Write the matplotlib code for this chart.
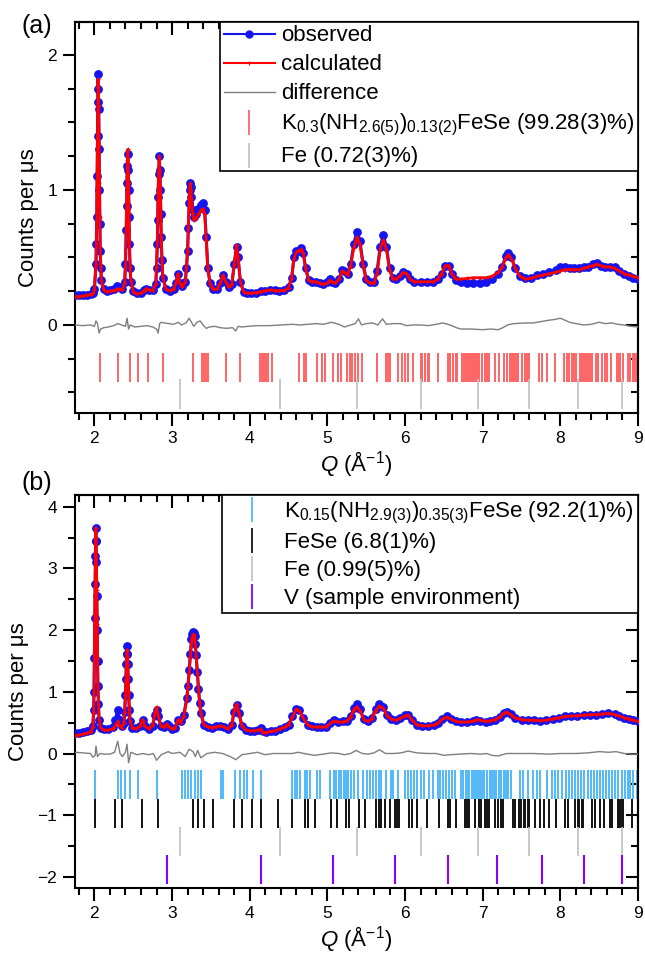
import matplotlib
matplotlib.use('Agg')
import matplotlib.pyplot as plt
from matplotlib.ticker import MultipleLocator, NullFormatter
from matplotlib.lines import Line2D

plt.rcParams['font.family'] = ['Liberation Sans', 'DejaVu Sans']
plt.rcParams['mathtext.fontset'] = 'custom'
plt.rcParams['mathtext.rm'] = 'Liberation Sans'
plt.rcParams['mathtext.it'] = 'Liberation Sans:italic'
plt.rcParams['axes.unicode_minus'] = True

# ---------------- Panel (a) data ----------------
q_a = [1.75, 1.80, 1.85, 1.90, 1.95, 1.98, 2.00, 2.02, 2.025, 2.03, 2.035, 2.04, 2.044,
       2.047, 2.051, 2.055, 2.06, 2.065, 2.07, 2.075, 2.082, 2.09, 2.12, 2.16, 2.20, 2.25, 2.29,
       2.32, 2.36, 2.39, 2.40, 2.41, 2.415, 2.42, 2.425, 2.43, 2.435, 2.44, 2.445, 2.45, 2.46, 2.47, 2.50,
       2.55, 2.60, 2.64, 2.67, 2.70, 2.75, 2.79, 2.80, 2.81, 2.815, 2.82, 2.827, 2.835, 2.843,
       2.85, 2.855, 2.86, 2.87, 2.88, 2.92, 2.97, 3.02, 3.05, 3.075, 3.10, 3.13,
       3.17, 3.185, 3.20, 3.21, 3.22, 3.228, 3.235, 3.243, 3.25, 3.265, 3.28, 3.31, 3.34, 3.37, 3.40,
       3.42, 3.44, 3.46, 3.49, 3.53, 3.58, 3.62, 3.655, 3.69, 3.73,
       3.77, 3.80, 3.83, 3.85, 3.88, 3.92, 3.97, 4.02, 4.08, 4.14,
       4.20, 4.26, 4.32, 4.38, 4.44, 4.50, 4.54, 4.57, 4.60, 4.63,
       4.665, 4.69, 4.72, 4.76, 4.80, 4.85, 4.90, 4.95, 5.00, 5.03,
       5.06, 5.10, 5.15, 5.19, 5.22, 5.26, 5.30, 5.34, 5.38, 5.42,
       5.46, 5.50, 5.55, 5.60, 5.64, 5.68, 5.72, 5.76, 5.80, 5.84,
       5.88, 5.93, 5.98, 6.02, 6.06, 6.12, 6.20, 6.28, 6.36, 6.42,
       6.47, 6.52, 6.56, 6.60, 6.65, 6.72, 6.80, 6.88, 6.96, 7.04,
       7.12, 7.20, 7.25, 7.30, 7.33, 7.37, 7.42, 7.48, 7.55, 7.62,
       7.70, 7.78, 7.86, 7.94, 8.00, 8.06, 8.12, 8.18, 8.24, 8.30,
       8.36, 8.42, 8.47, 8.52, 8.58, 8.64, 8.70, 8.76, 8.82, 8.88,
       8.94, 9.00]
obs_a = [0.22, 0.22, 0.225, 0.225, 0.23, 0.24, 0.27, 0.45, 0.60, 0.80, 1.10, 1.40, 1.65,
         1.86, 1.75, 1.60, 1.30, 1.00, 0.75, 0.55, 0.42, 0.33, 0.27, 0.255, 0.26, 0.27, 0.285,
         0.28, 0.27, 0.32, 0.45, 0.70, 0.88, 1.05, 1.18, 1.27, 1.15, 1.00, 0.80, 0.60, 0.42, 0.32, 0.25,
         0.235, 0.24, 0.26, 0.27, 0.26, 0.26, 0.30, 0.42, 0.60, 0.78, 0.95, 1.12, 1.25, 1.15,
         1.00, 0.82, 0.65, 0.48, 0.35, 0.27, 0.255, 0.27, 0.31, 0.38, 0.31, 0.29,
         0.32, 0.42, 0.55, 0.72, 0.90, 1.00, 1.05, 1.02, 0.95, 0.85, 0.80, 0.82, 0.86, 0.89, 0.90,
         0.85, 0.65, 0.42, 0.31, 0.27, 0.27, 0.31, 0.37, 0.32, 0.28,
         0.30, 0.45, 0.58, 0.50, 0.32, 0.245, 0.235, 0.235, 0.24, 0.25,
         0.255, 0.26, 0.26, 0.255, 0.26, 0.28, 0.35, 0.50, 0.55, 0.55,
         0.57, 0.53, 0.42, 0.33, 0.32, 0.32, 0.31, 0.30, 0.32, 0.34,
         0.32, 0.31, 0.34, 0.41, 0.40, 0.38, 0.45, 0.60, 0.69, 0.62,
         0.45, 0.34, 0.32, 0.32, 0.40, 0.58, 0.665, 0.58, 0.42, 0.35,
         0.34, 0.36, 0.39, 0.38, 0.34, 0.32, 0.32, 0.32, 0.32, 0.34,
         0.38, 0.44, 0.44, 0.38, 0.33, 0.32, 0.31, 0.31, 0.31, 0.32,
         0.34, 0.38, 0.43, 0.51, 0.53, 0.50, 0.42, 0.36, 0.35, 0.35,
         0.37, 0.38, 0.39, 0.41, 0.43, 0.43, 0.42, 0.42, 0.42, 0.43,
         0.43, 0.45, 0.46, 0.44, 0.43, 0.43, 0.43, 0.40, 0.38, 0.36,
         0.35, 0.34]
calc_a = [0.21, 0.21, 0.215, 0.22, 0.225, 0.235, 0.26, 0.45, 0.60, 0.78, 1.08, 1.35, 1.62,
          1.82, 1.76, 1.62, 1.33, 1.05, 0.80, 0.58, 0.44, 0.33, 0.26, 0.245, 0.25, 0.255, 0.265,
          0.265, 0.26, 0.31, 0.44, 0.72, 0.90, 1.10, 1.22, 1.30, 1.20, 1.05, 0.83, 0.62, 0.43, 0.33, 0.245,
          0.23, 0.235, 0.255, 0.27, 0.26, 0.255, 0.30, 0.43, 0.62, 0.80, 0.98, 1.13, 1.25, 1.15,
          1.00, 0.83, 0.65, 0.49, 0.36, 0.265, 0.255, 0.265, 0.31, 0.38, 0.31, 0.28,
          0.32, 0.42, 0.55, 0.72, 0.90, 1.00, 1.05, 1.00, 0.93, 0.83, 0.78, 0.79, 0.82, 0.85, 0.86,
          0.82, 0.63, 0.42, 0.30, 0.265, 0.265, 0.31, 0.37, 0.32, 0.28,
          0.30, 0.45, 0.59, 0.50, 0.32, 0.245, 0.235, 0.235, 0.24, 0.245,
          0.255, 0.26, 0.255, 0.255, 0.255, 0.275, 0.35, 0.49, 0.54, 0.55,
          0.56, 0.53, 0.42, 0.33, 0.32, 0.32, 0.31, 0.30, 0.31, 0.33,
          0.32, 0.31, 0.34, 0.40, 0.39, 0.37, 0.44, 0.57, 0.65, 0.60,
          0.44, 0.33, 0.31, 0.31, 0.38, 0.56, 0.63, 0.56, 0.41, 0.34,
          0.34, 0.36, 0.39, 0.38, 0.34, 0.32, 0.32, 0.32, 0.32, 0.34,
          0.38, 0.44, 0.44, 0.38, 0.34, 0.34, 0.345, 0.35, 0.35, 0.35,
          0.36, 0.39, 0.43, 0.50, 0.52, 0.49, 0.42, 0.36, 0.34, 0.345,
          0.36, 0.37, 0.38, 0.39, 0.40, 0.41, 0.41, 0.41, 0.41, 0.42,
          0.43, 0.44, 0.45, 0.44, 0.43, 0.43, 0.42, 0.40, 0.38, 0.37,
          0.36, 0.35]
qd_a = [1.75, 1.85, 1.95, 2.00, 2.02, 2.04, 2.06, 2.08, 2.12, 2.18,
        2.25, 2.30, 2.35, 2.40, 2.42, 2.44, 2.46, 2.52, 2.60, 2.68,
        2.75, 2.80, 2.82, 2.84, 2.86, 2.90, 2.96, 3.02, 3.08, 3.12,
        3.18, 3.22, 3.25, 3.28, 3.32, 3.36, 3.40, 3.44, 3.48, 3.55,
        3.62, 3.70, 3.78, 3.82, 3.85, 3.90, 3.98, 4.10, 4.25, 4.40,
        4.55, 4.65, 4.75, 4.85, 4.95, 5.05, 5.15, 5.22, 5.30, 5.36,
        5.40, 5.44, 5.50, 5.58, 5.65, 5.71, 5.76, 5.85, 5.94, 6.02,
        6.10, 6.20, 6.30, 6.40, 6.49, 6.58, 6.66, 6.72, 6.85, 7.00,
        7.10, 7.20, 7.26, 7.32, 7.40, 7.55, 7.65, 7.75, 7.85, 7.92,
        8.00, 8.06, 8.12, 8.20, 8.30, 8.40, 8.50, 8.58, 8.66, 8.74,
        8.82, 8.90, 9.00]
diff_a = [0.0, -0.005, 0.0, -0.01, 0.03, 0.01, -0.06, -0.03, -0.02, -0.015,
          -0.005, 0.01, 0.0, -0.01, 0.05, -0.03, 0.0, -0.015, -0.01, -0.005,
          -0.015, -0.03, -0.06, 0.01, 0.02, 0.015, 0.01, 0.005, 0.02, 0.0,
          0.015, 0.05, 0.02, -0.01, 0.02, 0.03, 0.0, -0.025, -0.015, -0.01,
          -0.02, -0.025, -0.02, -0.045, -0.01, -0.015, -0.01, -0.005, -0.005, 0.0,
          0.005, 0.0, 0.005, 0.01, 0.005, 0.02, 0.005, -0.015, 0.0, 0.01,
          0.045, 0.0, 0.01, 0.015, 0.0, 0.045, 0.005, 0.01, 0.01, -0.005,
          0.0, 0.0, -0.005, 0.005, 0.015, 0.0, -0.02, -0.03, -0.03, -0.035,
          -0.03, -0.035, -0.02, 0.0, 0.01, 0.015, 0.015, 0.025, 0.035, 0.04,
          0.05, 0.035, 0.02, 0.01, 0.0, 0.005, 0.02, 0.01, 0.015, 0.005,
          0.0, -0.01, -0.015]
refl_K03 = [2.077, 2.31, 2.46, 2.565, 2.69, 2.88, 3.27, 3.38, 3.41, 3.44,
            3.465, 3.69, 3.875, 4.13, 4.16, 4.18, 4.21, 4.24, 4.29, 4.63,
            4.70, 4.73, 4.87, 4.93, 4.97, 5.07, 5.14, 5.18, 5.25, 5.29,
            5.32, 5.36, 5.40, 5.45, 5.64, 5.75, 5.78, 5.81, 5.91, 5.96,
            6.00, 6.04, 6.10, 6.20, 6.22, 6.255, 6.30, 6.315, 6.43, 6.555,
            6.585, 6.615, 6.65, 6.67, 6.735, 6.76, 6.78, 6.81, 6.83, 6.85,
            6.87, 6.89, 6.91, 6.93, 6.95, 6.99, 7.025, 7.055, 7.085, 7.155,
            7.215, 7.28, 7.31, 7.355, 7.38, 7.40, 7.42, 7.44, 7.46, 7.505,
            7.54, 7.57, 7.59, 7.72, 7.76, 7.83, 7.935, 8.05, 8.08, 8.11,
            8.15, 8.17, 8.20, 8.255, 8.28, 8.30, 8.33, 8.355, 8.38, 8.405,
            8.455, 8.49, 8.53, 8.57, 8.60, 8.65, 8.725, 8.75, 8.77, 8.81,
            8.875, 8.90, 8.93, 8.955, 8.98]
refl_Fe = [3.105, 4.39, 5.38, 6.21, 6.94, 7.60, 8.225, 8.79]
labels_a = ['observed', 'calculated', 'difference',
            r'K$_{\mathrm{0.3}}$(NH$_{\mathrm{2.6(5)}}$)$_{\mathrm{0.13(2)}}$FeSe (99.28(3)%)',
            'Fe (0.72(3)%)']

# ---------------- Panel (b) data ----------------
q_b = [1.75, 1.80, 1.85, 1.90, 1.95, 1.98, 1.99, 1.995, 2.00, 2.005, 2.009, 2.012, 2.015, 2.018,
       2.021, 2.025, 2.03, 2.035, 2.04, 2.045, 2.052, 2.06, 2.08, 2.12, 2.18, 2.24, 2.27, 2.30,
       2.325, 2.35, 2.38, 2.39, 2.40, 2.405, 2.41, 2.415, 2.42, 2.425, 2.43, 2.435, 2.44, 2.45, 2.46, 2.49,
       2.54, 2.59, 2.62, 2.65, 2.70, 2.75, 2.78, 2.80, 2.82, 2.86,
       2.90, 2.93, 2.96, 3.00, 3.04, 3.08, 3.11, 3.15, 3.19, 3.205, 3.22, 3.235,
       3.25, 3.26, 3.27, 3.28, 3.29, 3.30, 3.31, 3.325, 3.34, 3.355, 3.37, 3.41, 3.46, 3.52, 3.57,
       3.62, 3.67, 3.72, 3.77, 3.80, 3.83, 3.86, 3.90, 3.95, 4.00,
       4.06, 4.11, 4.14, 4.17, 4.21, 4.27, 4.33, 4.39, 4.45, 4.50,
       4.55, 4.60, 4.64, 4.69, 4.75, 4.80, 4.86, 4.92, 4.98, 5.04,
       5.09, 5.14, 5.20, 5.25, 5.30, 5.34, 5.38, 5.42, 5.47, 5.52,
       5.57, 5.62, 5.67, 5.72, 5.77, 5.82, 5.88, 5.94, 6.00, 6.04,
       6.09, 6.15, 6.22, 6.30, 6.37, 6.43, 6.48, 6.54, 6.59, 6.65,
       6.72, 6.80, 6.87, 6.92, 6.97, 7.04, 7.10, 7.16, 7.22, 7.27,
       7.31, 7.36, 7.42, 7.50, 7.58, 7.66, 7.74, 7.82, 7.90, 7.98,
       8.06, 8.14, 8.22, 8.30, 8.38, 8.46, 8.54, 8.62, 8.70, 8.76,
       8.82, 8.88, 8.94, 9.00]
obs_b = [0.33, 0.34, 0.35, 0.36, 0.38, 0.45, 0.70, 1.00, 1.55, 2.20, 2.75, 3.20, 3.45, 3.65,
         3.45, 3.10, 2.55, 2.00, 1.50, 1.10, 0.80, 0.55, 0.42, 0.39, 0.40, 0.43, 0.55, 0.71,
         0.55, 0.45, 0.50, 0.68, 0.95, 1.20, 1.45, 1.62, 1.74, 1.62, 1.45, 1.20, 0.95, 0.70, 0.52, 0.42,
         0.41, 0.45, 0.55, 0.44, 0.40, 0.45, 0.62, 0.70, 0.60, 0.44,
         0.43, 0.48, 0.44, 0.40, 0.42, 0.55, 0.52, 0.62, 0.90, 1.10, 1.35, 1.62,
         1.85, 1.93, 1.97, 1.96, 1.90, 1.78, 1.60, 1.32, 1.05, 0.82, 0.65, 0.47, 0.43, 0.42, 0.44,
         0.45, 0.43, 0.40, 0.47, 0.68, 0.78, 0.65, 0.45, 0.38, 0.37,
         0.37, 0.38, 0.41, 0.37, 0.35, 0.36, 0.37, 0.40, 0.43, 0.47,
         0.60, 0.72, 0.70, 0.58, 0.47, 0.44, 0.43, 0.43, 0.43, 0.50,
         0.54, 0.51, 0.52, 0.53, 0.60, 0.74, 0.80, 0.72, 0.56, 0.53,
         0.57, 0.72, 0.81, 0.75, 0.62, 0.56, 0.54, 0.57, 0.62, 0.62,
         0.54, 0.47, 0.45, 0.45, 0.46, 0.50, 0.56, 0.60, 0.56, 0.52,
         0.51, 0.51, 0.52, 0.55, 0.53, 0.51, 0.52, 0.55, 0.59, 0.66,
         0.68, 0.64, 0.58, 0.55, 0.54, 0.54, 0.53, 0.54, 0.56, 0.58,
         0.60, 0.61, 0.61, 0.62, 0.63, 0.63, 0.64, 0.65, 0.64, 0.61,
         0.58, 0.56, 0.54, 0.52]
calc_b = [0.29, 0.30, 0.31, 0.33, 0.35, 0.43, 0.68, 1.00, 1.55, 2.20, 2.75, 3.20, 3.45, 3.66,
          3.50, 3.20, 2.65, 2.10, 1.55, 1.10, 0.80, 0.55, 0.42, 0.38, 0.38, 0.40, 0.45, 0.52,
          0.45, 0.42, 0.50, 0.68, 0.95, 1.18, 1.40, 1.58, 1.68, 1.58, 1.45, 1.22, 1.00, 0.72, 0.52, 0.42,
          0.40, 0.45, 0.55, 0.44, 0.40, 0.46, 0.65, 0.75, 0.62, 0.44,
          0.43, 0.48, 0.43, 0.40, 0.42, 0.55, 0.50, 0.60, 0.88, 1.08, 1.30, 1.57,
          1.80, 1.88, 1.93, 1.92, 1.87, 1.75, 1.58, 1.31, 1.05, 0.82, 0.65, 0.47, 0.43, 0.42, 0.43,
          0.45, 0.43, 0.40, 0.47, 0.70, 0.80, 0.66, 0.45, 0.38, 0.37,
          0.37, 0.38, 0.40, 0.34, 0.34, 0.36, 0.37, 0.40, 0.43, 0.47,
          0.59, 0.72, 0.69, 0.57, 0.46, 0.43, 0.43, 0.43, 0.43, 0.49,
          0.53, 0.51, 0.51, 0.53, 0.59, 0.71, 0.76, 0.69, 0.55, 0.52,
          0.56, 0.69, 0.77, 0.73, 0.61, 0.56, 0.54, 0.57, 0.61, 0.62,
          0.54, 0.47, 0.45, 0.45, 0.46, 0.50, 0.56, 0.59, 0.56, 0.52,
          0.51, 0.51, 0.52, 0.55, 0.54, 0.52, 0.53, 0.55, 0.59, 0.65,
          0.67, 0.63, 0.58, 0.55, 0.54, 0.54, 0.53, 0.54, 0.56, 0.58,
          0.60, 0.61, 0.61, 0.62, 0.63, 0.63, 0.64, 0.65, 0.63, 0.61,
          0.58, 0.56, 0.54, 0.52]
qd_b = [1.75, 1.85, 1.95, 1.98, 2.01, 2.02, 2.04, 2.07, 2.12, 2.20,
        2.26, 2.30, 2.33, 2.36, 2.40, 2.42, 2.44, 2.47, 2.55, 2.62,
        2.70, 2.76, 2.80, 2.86, 2.95, 3.00, 3.10, 3.17, 3.22, 3.27,
        3.30, 3.33, 3.37, 3.45, 3.55, 3.65, 3.75, 3.82, 3.90, 4.00,
        4.10, 4.15, 4.20, 4.30, 4.45, 4.55, 4.62, 4.70, 4.83, 4.95,
        5.05, 5.15, 5.22, 5.30, 5.37, 5.45, 5.52, 5.60, 5.67, 5.75,
        5.85, 5.95, 6.04, 6.15, 6.30, 6.40, 6.50, 6.58, 6.70, 6.85,
        6.97, 7.05, 7.12, 7.20, 7.31, 7.45, 7.65, 7.85, 8.00, 8.20,
        8.35, 8.50, 8.62, 8.72, 8.82, 8.92, 9.00]
diff_b = [0.02, 0.01, 0.0, -0.06, -0.03, 0.12, -0.05, 0.0, -0.01, -0.01,
          0.02, 0.20, 0.0, -0.05, 0.02, 0.15, -0.15, 0.02, -0.02, 0.0,
          -0.02, 0.0, -0.11, -0.02, 0.03, 0.0, 0.02, -0.05, 0.07, 0.03,
          -0.05, 0.05, -0.07, 0.0, 0.02, 0.0, -0.05, -0.10, -0.02, 0.0,
          0.02, 0.0, -0.02, 0.0, 0.0, 0.0, 0.02, 0.0, -0.03, -0.01,
          0.01, 0.0, -0.02, 0.0, 0.05, 0.0, -0.01, 0.01, 0.06, 0.0,
          0.0, 0.01, 0.04, 0.01, 0.0, 0.0, -0.03, -0.02, -0.01, 0.0,
          -0.01, 0.0, -0.03, -0.04, 0.0, 0.0, 0.0, -0.01, 0.0, 0.0,
          0.01, 0.03, 0.02, 0.03, 0.0, -0.01, -0.01]
refl_K015 = [2.011, 2.30, 2.34, 2.39, 2.455, 2.56, 2.80, 3.13, 3.17, 3.21,
             3.25, 3.29, 3.33, 3.37, 3.63, 3.66, 3.81, 3.87, 3.92, 3.97,
             4.04, 4.15, 4.55, 4.585, 4.61, 4.65, 4.71, 4.74, 4.77, 4.865,
             4.90, 5.03, 5.09, 5.11, 5.15, 5.18, 5.22, 5.245, 5.27, 5.31,
             5.34, 5.39, 5.46, 5.51, 5.55, 5.59, 5.63, 5.67, 5.695, 5.76,
             5.82, 5.85, 5.905, 6.00, 6.04, 6.08, 6.12, 6.155, 6.20, 6.25,
             6.31, 6.355, 6.42, 6.45, 6.49, 6.525, 6.565, 6.61, 6.645, 6.715,
             6.75, 6.78, 6.805, 6.83, 6.86, 6.885, 6.91, 6.94, 6.965, 6.99,
             7.016, 7.05, 7.095, 7.12, 7.15, 7.175, 7.21, 7.24, 7.28, 7.305,
             7.33, 7.36, 7.475, 7.52, 7.58, 7.65, 7.70, 7.74, 7.825, 7.89,
             7.93, 7.97, 8.02, 8.07, 8.11, 8.15, 8.195, 8.23, 8.27, 8.31,
             8.35, 8.39, 8.43, 8.47, 8.51, 8.55, 8.59, 8.63, 8.67, 8.71,
             8.74, 8.79, 8.83, 8.865, 8.90, 8.94, 8.99]
refl_FeSe = [2.013, 2.27, 2.355, 2.617, 2.818, 3.267, 3.34, 3.405, 3.524, 3.794,
             3.90, 4.025, 4.145, 4.37, 4.543, 4.714, 4.753, 4.843, 5.048, 5.12,
             5.236, 5.279, 5.408, 5.485, 5.63, 5.665, 5.686, 5.74, 5.80, 5.87,
             5.90, 5.92, 6.05, 6.09, 6.15, 6.285, 6.435, 6.555, 6.585, 6.65,
             6.77, 6.79, 6.81, 6.83, 6.906, 6.957, 6.983, 7.026, 7.056, 7.086,
             7.163, 7.197, 7.236, 7.257, 7.385, 7.42, 7.463, 7.488, 7.53, 7.55,
             7.58, 7.59, 7.677, 7.74, 7.784, 7.848, 7.942, 8.062, 8.105, 8.19,
             8.225, 8.246, 8.276, 8.297, 8.413, 8.447, 8.511, 8.567, 8.64, 8.67,
             8.74, 8.76, 8.78, 8.81, 8.918]
refl_Fe_b = [3.105, 4.39, 5.38, 6.21, 6.94, 7.60, 8.225, 8.79]
refl_V = [2.93, 4.15, 5.07, 5.87, 6.55, 7.19, 7.76, 8.30, 8.80]
labels_b = [r'K$_{\mathrm{0.15}}$(NH$_{\mathrm{2.9(3)}}$)$_{\mathrm{0.35(3)}}$FeSe (92.2(1)%)',
            'FeSe (6.8(1)%)', 'Fe (0.99(5)%)', 'V (sample environment)']

# ---------------- styles ----------------
C_OBS = '#1414f0'
C_CALC = '#ff0000'
C_DIFF = '#7f7f7f'
C_RED = '#ff6464'
C_GRAY = '#c4c4c4'
C_CYAN = '#52b8f8'
C_BLACK = '#111111'
C_PURPLE = '#8a00ff'

fig = plt.figure(figsize=(6.45, 9.59), dpi=100)
axa = fig.add_axes([75 / 645, 1 - 413 / 959, 563 / 645, 391 / 959])
axb = fig.add_axes([75 / 645, 1 - 888 / 959, 563 / 645, 393 / 959])


def style_axes(ax, ylim, ymajor, yminor):
    ax.set_xlim(1.75, 9)
    ax.set_ylim(*ylim)
    ax.xaxis.set_major_locator(MultipleLocator(1))
    ax.xaxis.set_minor_locator(MultipleLocator(0.2))
    ax.yaxis.set_major_locator(MultipleLocator(ymajor))
    ax.yaxis.set_minor_locator(MultipleLocator(yminor))
    ax.tick_params(which='both', direction='out', width=1.5, labelsize=12.5,
                   top=False, right=False, pad=4)
    ax.tick_params(which='major', length=9)
    ax.tick_params(which='minor', length=5)
    for s in ax.spines.values():
        s.set_linewidth(1.5)
    sx = ax.secondary_xaxis('top')
    sx.xaxis.set_major_locator(MultipleLocator(1))
    sx.xaxis.set_minor_locator(MultipleLocator(0.2))
    sx.xaxis.set_major_formatter(NullFormatter())
    sx.tick_params(which='both', direction='in', width=1.5)
    sx.tick_params(which='major', length=9)
    sx.tick_params(which='minor', length=5)
    sx.spines['top'].set_linewidth(1.5)
    sy = ax.secondary_yaxis('right')
    sy.yaxis.set_major_locator(MultipleLocator(ymajor))
    sy.yaxis.set_minor_locator(MultipleLocator(yminor))
    sy.yaxis.set_major_formatter(NullFormatter())
    sy.tick_params(which='both', direction='in', width=1.5)
    sy.tick_params(which='major', length=9)
    sy.tick_params(which='minor', length=5)
    sy.spines['right'].set_linewidth(1.5)
    ax.set_xlabel(r'$Q$ (Å$^{-1}$)', fontsize=16, labelpad=2)
    ax.set_ylabel('Counts per μs', fontsize=16, labelpad=6)


# ---- panel (a)
style_axes(axa, (-0.652, 2.244), 1, 0.25)
axa.plot(q_a, obs_a, color=C_OBS, lw=2.2, marker='o', ms=5.3, mec=C_OBS, zorder=3)
axa.plot(q_a, calc_a, color=C_CALC, lw=2.0, marker='+', ms=3.5, mew=0.8, zorder=4)
axa.plot(qd_a, diff_a, color=C_DIFF, lw=1.0, zorder=3)
axa.vlines(refl_K03, -0.42, -0.21, colors=C_RED, lw=1.4, zorder=2)
axa.vlines(refl_Fe, -0.62, -0.40, colors=C_GRAY, lw=1.3, zorder=2)

hand_a = [Line2D([], [], color=C_OBS, lw=1.5, marker='o', ms=5),
          Line2D([], [], color=C_CALC, lw=1.5, marker='+', ms=3, mew=0.8),
          Line2D([], [], color=C_DIFF, lw=1.0),
          Line2D([], [], color=C_RED, marker='|', ls='None', ms=18, mew=1.3),
          Line2D([], [], color=C_GRAY, marker='|', ls='None', ms=18, mew=1.3)]
leg = axa.legend(hand_a, labels_a, loc='upper right', bbox_to_anchor=(1, 1),
                 borderaxespad=0, fontsize=16, frameon=True, fancybox=False,
                 edgecolor='black', framealpha=1, handlelength=2.3,
                 handletextpad=0.3, labelspacing=0.36, borderpad=0.15,
                 numpoints=1)
leg.get_frame().set_linewidth(1.2)

# ---- panel (b)
style_axes(axb, (-2.18, 4.19), 1, 0.5)
axb.plot(q_b, obs_b, color=C_OBS, lw=2.2, marker='o', ms=5.3, mec=C_OBS, zorder=3)
axb.plot(q_b, calc_b, color=C_CALC, lw=2.0, marker='+', ms=3.5, mew=0.8, zorder=4)
axb.plot(qd_b, diff_b, color=C_DIFF, lw=1.0, zorder=3)
axb.vlines(refl_K015, -0.74, -0.27, colors=C_CYAN, lw=1.4, zorder=2)
axb.vlines(refl_FeSe, -1.21, -0.73, colors=C_BLACK, lw=1.4, zorder=2)
axb.vlines(refl_Fe_b, -1.66, -1.19, colors=C_GRAY, lw=1.3, zorder=2)
axb.vlines(refl_V, -2.11, -1.65, colors=C_PURPLE, lw=1.5, zorder=2)

hand_b = [Line2D([], [], color=C_CYAN, marker='|', ls='None', ms=18, mew=1.3),
          Line2D([], [], color=C_BLACK, marker='|', ls='None', ms=18, mew=1.3),
          Line2D([], [], color=C_GRAY, marker='|', ls='None', ms=18, mew=1.3),
          Line2D([], [], color=C_PURPLE, marker='|', ls='None', ms=18, mew=1.3)]
legb = axb.legend(hand_b, labels_b, loc='upper right', bbox_to_anchor=(1, 1),
                  borderaxespad=0, fontsize=16, frameon=True, fancybox=False,
                  edgecolor='black', framealpha=1, handlelength=2.3,
                  handletextpad=0.3, labelspacing=0.3, borderpad=0.2,
                  numpoints=1)
legb.get_frame().set_linewidth(1.2)

fig.text(37 / 645, 1 - 26 / 959, '(a)', fontsize=18, ha='center', va='center')
fig.text(37 / 645, 1 - 483 / 959, '(b)', fontsize=18, ha='center', va='center')

fig.savefig('out.png', dpi=100)
